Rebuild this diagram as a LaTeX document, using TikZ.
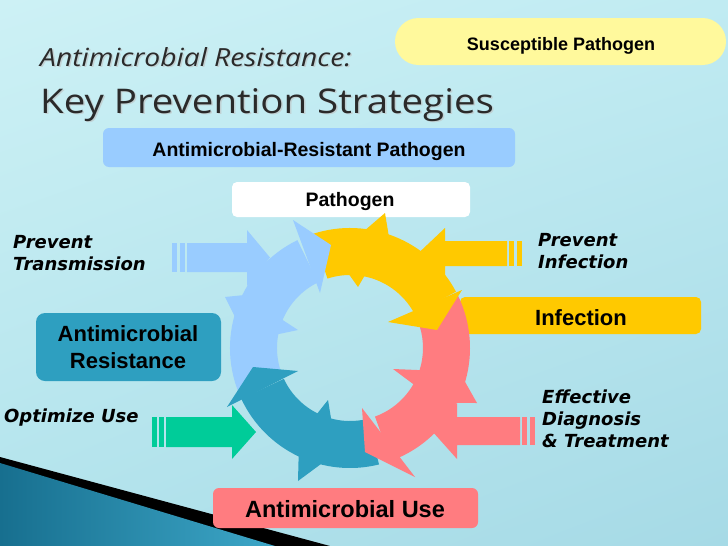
\documentclass[tikz,border=0pt]{standalone}
\usepackage{fontspec}
\setmainfont{Liberation Sans}
\newfontfamily\titlefont[FakeStretch=1.13]{Open Sans}
\newfontfamily\lblfont{DejaVu Sans}
\usetikzlibrary{calc,shadings}
\definecolor{bgA}{HTML}{CDF1F5}
\definecolor{bgB}{HTML}{C0EBF2}
\definecolor{bgC}{HTML}{B2E3EC}
\definecolor{bgD}{HTML}{A6DAE6}
\definecolor{cblue}{HTML}{99CCFF}
\definecolor{cyel}{HTML}{FFC900}
\definecolor{cpink}{HTML}{FF7C80}
\definecolor{cteal}{HTML}{2E9FC0}
\definecolor{cgreen}{HTML}{00CC99}
\definecolor{cpale}{HTML}{FFF99C}
\definecolor{ctitle}{HTML}{2A2A2A}
\definecolor{tealdark}{HTML}{176F8F}
\definecolor{teallight}{HTML}{3DA7C8}
\newcommand\ringbody[3]{\fill[#1] ($(C)+(#2:120)$) arc[start angle=#2, end angle=#3, radius=120] -- ($(C)+(#3:73)$) arc[start angle=#3, end angle=#2, radius=73] -- cycle;}
\newcommand\ringspike[6]{\fill[#1] (#2,#3) -- ($(C)+(#4:#6)$) -- ($(C)+(#5:#6)$) -- cycle;}
\begin{document}
\begin{tikzpicture}[x=1pt,y=-1pt,
  box/.style={inner sep=0pt, rounded corners=6pt},
  btxt/.style={inner sep=0pt, anchor=base, text=black},
  lbl/.style={inner sep=0pt, anchor=base west, text=black, font=\lblfont\bfseries\itshape\fontsize{18}{20}\selectfont},
  ttl/.style={inner sep=0pt, anchor=base west, text=ctitle},
]
\useasboundingbox (0,0) rectangle (728,546);
\shade[upper left=bgA, upper right=bgB, lower left=bgC, lower right=bgD] (0,0) rectangle (728,546);
% bottom-left corner band
\fill[black] (0,457) -- (330,546) -- (0,546) -- cycle;
\shade[left color=tealdark, right color=teallight] (0,463) -- (275,546) -- (0,546) -- cycle;

% title
\node[ttl, text=black!25, opacity=0.6, font=\titlefont\itshape\fontsize{25}{30}\selectfont] (t1s) at (41.5,67.5) {Antimicrobial Resistance:};
\node[ttl, text=black!25, opacity=0.6, font=\titlefont\fontsize{34}{40}\selectfont] (t2s) at (41.5,114.5) {Key Prevention Strategies};
\node[ttl, font=\titlefont\itshape\fontsize{25}{30}\selectfont] (t1) at (40,66) {Antimicrobial Resistance:};
\node[ttl, font=\titlefont\fontsize{34}{40}\selectfont] (t2) at (40,113) {Key Prevention Strategies};

% boxes
\node[box, fill=cpale, rounded corners=23.5pt, minimum width=331pt, minimum height=47pt] (sus) at (560.5,41.5) {};
\node[btxt, font=\bfseries\fontsize{18}{20}\selectfont] (sust) at (561,50) {Susceptible Pathogen};
\node[box, fill=cblue, minimum width=412pt, minimum height=39pt] (arp) at (309,147.5) {};
\node[btxt, font=\bfseries\fontsize{19.5}{22}\selectfont] (arpt) at (309,156.5) {Antimicrobial-Resistant Pathogen};
\node[box, fill=white, rounded corners=5pt, minimum width=238pt, minimum height=35pt] (pat) at (351,199.5) {};
\node[btxt, font=\bfseries\fontsize{19.5}{22}\selectfont] (patt) at (350,206.5) {Pathogen};
\node[box, fill=cyel, rounded corners=5pt, minimum width=241pt, minimum height=37pt] (inf) at (580.5,315.5) {};
\node[btxt, font=\bfseries\fontsize{22}{24}\selectfont] (inft) at (581,325) {Infection};
\node[box, fill=cteal, rounded corners=9pt, minimum width=185pt, minimum height=68pt] (amr) at (128.5,347) {};
\node[btxt, font=\bfseries\fontsize{22}{24}\selectfont] (amrt1) at (128,341) {Antimicrobial};
\node[btxt, font=\bfseries\fontsize{22}{24}\selectfont] (amrt2) at (128,368) {Resistance};
\node[box, fill=cpink, minimum width=265pt, minimum height=40pt] (amu) at (345.5,508) {};
\node[btxt, font=\bfseries\fontsize{23.5}{25}\selectfont] (amut) at (345,517) {Antimicrobial Use};

% side labels
\node[lbl] (pt1) at (13,248) {Prevent};
\node[lbl] (pt2) at (13,270) {Transmission};
\node[lbl] (pi1) at (538,246) {Prevent};
\node[lbl] (pi2) at (538,268) {Infection};
\node[lbl] (ed1) at (542,403) {Effective};
\node[lbl] (ed2) at (542,425) {Diagnosis};
\node[lbl] (ed3) at (542,447) {\& Treatment};
\node[lbl] (ou) at (4,422) {Optimize Use};

% straight arrows
\fill[cblue] (172,243) rectangle (177,272);
\fill[cblue] (180,243) rectangle (185,272);
\fill[cblue] (187,243) -- (247,243) -- (247,230) -- (270,257.5) -- (247,286) -- (247,272) -- (187,272) -- cycle;
\fill[cyel] (522,241) rectangle (517,266);
\fill[cyel] (514,241) rectangle (509,266);
\fill[cyel] (507,241) -- (445,241) -- (445,228) -- (418,253.5) -- (445,279) -- (445,266) -- (507,266) -- cycle;
\fill[cgreen] (152,417) rectangle (157,447);
\fill[cgreen] (159,417) rectangle (164,447);
\fill[cgreen] (166,417) -- (232,417) -- (232,405) -- (256,432) -- (232,459) -- (232,447) -- (166,447) -- cycle;
\fill[cpink] (535,417) rectangle (530,445);
\fill[cpink] (527,417) rectangle (522,445);
\fill[cpink] (520,417) -- (457,417) -- (457,403) -- (432,431) -- (457,459) -- (457,445) -- (520,445) -- cycle;

% cycle ring
\coordinate (C) at (350,348);
\ringbody{cyel}{-108}{-28}
\ringbody{cpink}{-26}{70}
\ringbody{cteal}{76}{155}
\ringbody{cblue}{158}{244}
\ringspike{cyel}{385}{213}{-70.5}{-83.5}{117}
\ringspike{cyel}{358}{287}{-78}{-92}{76}
\ringspike{cblue}{225}{297}{-153}{-166}{117}
\ringspike{cblue}{298}{330}{-157}{-170}{76}
\ringspike{cteal}{298}{481}{-244}{-257}{117}
\ringspike{cteal}{328}{400}{-243}{-256}{76}
\ringspike{cpink}{477}{403}{-332}{-345}{117}
\ringspike{cpink}{393}{369}{-330}{-343}{76}
\fill[cblue] (293,220) -- (331,245) -- (320,293) -- cycle;
\fill[cyel] (462,290) -- (437,330) -- (388,322) -- cycle;
\fill[cpink] (415,477) -- (365,452) -- (362,408) -- cycle;
\fill[cteal] (227,407) -- (253,367) -- (298,371) -- cycle;
\end{tikzpicture}
\end{document}
